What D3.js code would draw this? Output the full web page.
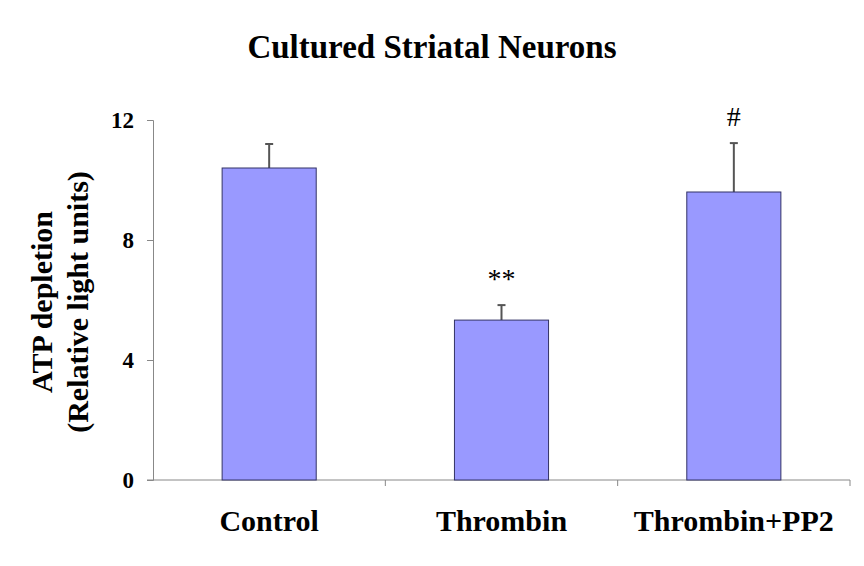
<!DOCTYPE html>
<html>
<head>
<meta charset="utf-8">
<script src="https://cdn.jsdelivr.net/npm/d3@7"></script>
<style>
  body { margin: 0; background: #fff; }
  text { font-family: "Liberation Serif", "Times New Roman", serif; font-weight: bold; }
  text.mark { font-weight: normal; }
</style>
</head>
<body>
<div class="canvas"></div>
<script>
const categories = ['Control', 'Thrombin', 'Thrombin+PP2'];
const means = [10.4, 5.33, 9.6];
const errors = [0.8, 0.5, 1.63];
const marks = ['', '**', '#'];
const yTicks = [0, 4, 8, 12];

const data = categories.map((c, i) => ({ name: c, value: means[i], err: errors[i], mark: marks[i] }));

const svg = d3.select('.canvas')
  .append('svg')
  .attr('width', 864)
  .attr('height', 566);

// margins and dimensions
const margin = { top: 120, right: 14, bottom: 86, left: 153 };
const graphWidth = 864 - margin.left - margin.right;
const graphHeight = 566 - margin.top - margin.bottom;

const graph = svg.append('g')
  .attr('transform', `translate(${margin.left}, ${margin.top})`);

// scales
const y = d3.scaleLinear()
  .domain([0, 12])
  .range([graphHeight, 0]);

const x = d3.scaleBand()
  .domain(categories)
  .range([0, graphWidth]);

const barWidth = x.bandwidth() * 0.405;

// title
svg.append('text')
  .attr('x', 432)
  .attr('y', 58)
  .attr('text-anchor', 'middle')
  .attr('font-size', 33)
  .text('Cultured Striatal Neurons');

// y axis
const yAxis = d3.axisLeft(y)
  .tickValues(yTicks)
  .tickSize(6)
  .tickFormat(d3.format('d'));

const yAxisGroup = graph.append('g').call(yAxis);
yAxisGroup.select('.domain').attr('stroke', '#888');
yAxisGroup.selectAll('.tick line').attr('stroke', '#888');
yAxisGroup.selectAll('.tick text')
  .attr('x', -19)
  .attr('font-size', 23)
  .attr('fill', '#000');

// x axis with ticks at category boundaries
const xAxisGroup = graph.append('g')
  .attr('transform', `translate(0, ${graphHeight})`);
xAxisGroup.append('line')
  .attr('x1', -6)
  .attr('x2', graphWidth)
  .attr('stroke', '#888');
xAxisGroup.selectAll('line.bound')
  .data(categories.slice(1).concat(['end']))
  .enter()
  .append('line')
  .attr('class', 'bound')
  .attr('x1', (d, i) => x.step() * (i + 1))
  .attr('x2', (d, i) => x.step() * (i + 1))
  .attr('y1', 0)
  .attr('y2', 6)
  .attr('stroke', '#888');
xAxisGroup.selectAll('text')
  .data(categories)
  .enter()
  .append('text')
  .attr('x', d => x(d) + x.bandwidth() / 2)
  .attr('y', 51)
  .attr('text-anchor', 'middle')
  .attr('font-size', 30)
  .text(d => d);

// y label
const yLabel = svg.append('text')
  .attr('transform', 'translate(0, 302) rotate(-90)')
  .attr('text-anchor', 'middle')
  .attr('font-size', 30);
yLabel.append('tspan').attr('x', 0).attr('y', 52).text('ATP depletion');
yLabel.append('tspan').attr('x', 0).attr('y', 88).text('(Relative light units)');

// error bars (drawn behind bars)
const eb = graph.selectAll('g.err')
  .data(data)
  .enter()
  .append('g')
  .attr('class', 'err');
eb.append('line')
  .attr('x1', d => x(d.name) + x.bandwidth() / 2)
  .attr('x2', d => x(d.name) + x.bandwidth() / 2)
  .attr('y1', d => y(d.value))
  .attr('y2', d => y(d.value + d.err))
  .attr('stroke', '#555')
  .attr('stroke-width', 2);
eb.append('line')
  .attr('x1', d => x(d.name) + x.bandwidth() / 2 - 4)
  .attr('x2', d => x(d.name) + x.bandwidth() / 2 + 4)
  .attr('y1', d => y(d.value + d.err))
  .attr('y2', d => y(d.value + d.err))
  .attr('stroke', '#555')
  .attr('stroke-width', 2);

// bars
graph.selectAll('rect')
  .data(data)
  .enter()
  .append('rect')
  .attr('x', d => x(d.name) + (x.bandwidth() - barWidth) / 2)
  .attr('y', d => y(d.value))
  .attr('width', barWidth)
  .attr('height', d => graphHeight - y(d.value))
  .attr('fill', '#9999ff')
  .attr('stroke', '#333366')
  .attr('stroke-width', 1);

// significance marks
graph.selectAll('text.mark')
  .data(data)
  .enter()
  .append('text')
  .attr('class', 'mark')
  .attr('x', d => x(d.name) + x.bandwidth() / 2)
  .attr('y', d => y(d.value + d.err) - 17)
  .attr('text-anchor', 'middle')
  .attr('font-size', 28)
  .text(d => d.mark);
</script>
</body>
</html>
